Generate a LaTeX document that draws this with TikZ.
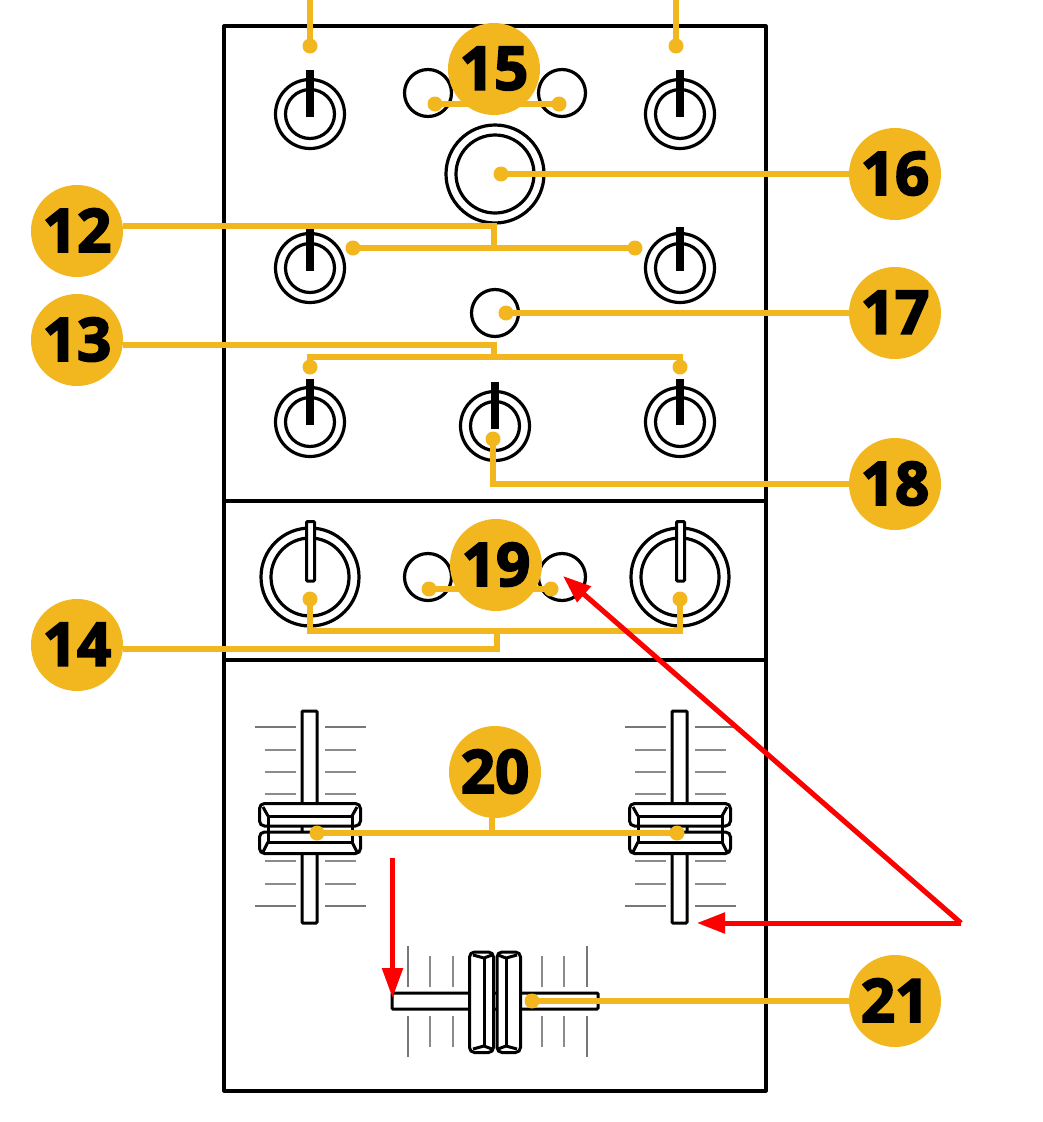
\documentclass[tikz,border=0pt]{standalone}
\usepackage{fontspec}
\usetikzlibrary{arrows.meta}
\newfontfamily\numfont[BoldFeatures={FakeBold=3}]{Open Sans}
\definecolor{gold}{HTML}{F2B61E}
\definecolor{tickgray}{HTML}{777777}
\newcommand\badgetext[1]{\raisebox{1.5pt}{#1}}
\tikzset{
 panel/.style={line width=3.2pt,draw=black,line join=round},
 ring/.style={circle,draw=black,line width=3.2pt,inner sep=0pt,fill=white},
 badge/.style={circle,fill=gold,inner sep=0pt,minimum size=92pt,font=\numfont\bfseries\fontsize{60}{60}\selectfont,text=black},
 dot/.style={circle,fill=gold,inner sep=0pt,minimum size=15pt},
 lead/.style={draw=gold,line width=6.5pt,line join=miter},
 pointer/.style={line width=8pt,draw=black},
 hollow/.style={draw=black,line width=3pt,fill=white,rounded corners=1pt},
 capline/.style={draw=black,line width=3pt,line join=round},
 major/.style={draw=tickgray,line width=2pt},
 minor/.style={draw=tickgray!85,line width=1.4pt},
 redline/.style={draw=red,line width=5pt},
 redshadow/.style={draw=black,opacity=.2,line width=5pt},
 redtipa/.style={-{Triangle[length=28pt,width=20pt]}},
 redtipb/.style={-{Triangle[length=30pt,width=20pt]}},
}
\newcommand\smallknob[3]{%
 \node[ring,minimum size=69pt] (#1o) at (#2) {};
 \node[ring,minimum size=49pt] (#1i) at (#2) {};
 \draw[pointer] ([yshift=#3pt]#1o.center) -- ([yshift=-3pt]#1o.center);
}
\newcommand\bigknob[2]{%
 \node[ring,minimum size=98pt] (#1o) at (#2) {};
 \node[ring,minimum size=78pt] (#1i) at (#2) {};
}
\newcommand\vfader[2]{%
 \begin{scope}[shift={(#2,0)}]
 \foreach \y in {727,906}{
  \draw[major] (-55,\y) -- (-14,\y);
  \draw[major] (15,\y) -- (56,\y);}
 \foreach \y in {750,772,794,861,884}{
  \draw[minor] (-45,\y) -- (-14,\y);
  \draw[minor] (15,\y) -- (46,\y);}
 \draw[hollow] (-8,711) rectangle (7,923);
 \draw[hollow,rounded corners=5pt] (-50.5,803.5) rectangle (50.5,826);
 \draw[hollow,rounded corners=5pt] (-50.5,832) rectangle (50.5,853.5);
 \draw[capline] (-42,816) -- (-42,842) (42,816) -- (42,842);
 \draw[capline] (-42,816) -- (42,816) (-42,842) -- (42,842);
 \draw[capline] (-47,807) -- (-42,816) (47,807) -- (42,816);
 \draw[capline] (-47,852) -- (-42,842) (47,852) -- (42,842);
 \end{scope}
}
\begin{document}
\begin{tikzpicture}[x=1pt,y=-1pt]
\useasboundingbox (0,0) rectangle (1043,1122);
\fill[white] (0,0) rectangle (1043,1122);
% panels
\draw[panel,fill=white] (224,26) rectangle (766,1091);
\draw[panel] (224,501) -- (766,501);
\draw[panel] (224,660) -- (766,660);
% upper knobs
\smallknob{ka}{310,114}{44}
\smallknob{kb}{680,114}{44}
\smallknob{kc}{310,268}{41}
\smallknob{kd}{680,268}{41}
\smallknob{ke}{310,422}{43}
\smallknob{kf}{680,422}{43}
\smallknob{kg}{495,426}{44}
\bigknob{kh}{495,174}
\node[ring,minimum size=47pt] (sa) at (428,93) {};
\node[ring,minimum size=47pt] (sb) at (562,93) {};
\node[ring,minimum size=47pt] (sc) at (495,313) {};
% second section
\bigknob{ki}{310,577}
\bigknob{kj}{680,577}
\draw[hollow] (306.5,521.5) rectangle (314.5,581);
\draw[hollow] (676.5,521.5) rectangle (684.5,581);
\node[ring,minimum size=47pt] (sd) at (428,577) {};
\node[ring,minimum size=47pt] (se) at (562,577) {};
% faders
\vfader{a}{310}
\vfader{b}{680}
% crossfader
\foreach \x in {408,587}{
 \draw[major] (\x,946) -- (\x,987);
 \draw[major] (\x,1016) -- (\x,1057);}
\foreach \x in {430,453,542,564}{
 \draw[minor] (\x,956) -- (\x,987);
 \draw[minor] (\x,1016) -- (\x,1047);}
\draw[hollow] (392,993) rectangle (598,1009);
\draw[hollow,rounded corners=5pt] (469.5,952) rectangle (493.5,1052.5);
\draw[hollow,rounded corners=5pt] (497,952) rectangle (520.5,1052.5);
\draw[capline] (484,958) -- (484,1046) (506,958) -- (506,1046);
\draw[capline] (473,955) -- (484,958) -- (492,955);
\draw[capline] (473,1049) -- (484,1046) -- (492,1049);
\draw[capline] (498,955) -- (506,958) -- (517,955);
\draw[capline] (498,1049) -- (506,1046) -- (517,1049);
% badges
\node[badge] (b15) at (494,69) {\badgetext{15}};
\node[badge] (b16) at (895,174) {\badgetext{16}};
\node[badge] (b12) at (77,231) {\badgetext{12}};
\node[badge] (b17) at (895,313) {\badgetext{17}};
\node[badge] (b13) at (77,340) {\badgetext{13}};
\node[badge] (b18) at (895,484) {\badgetext{18}};
\node[badge] (b19) at (496,565) {\badgetext{19}};
\node[badge] (b14) at (77,645) {\badgetext{14}};
\node[badge] (b20) at (495,772) {\badgetext{20}};
\node[badge] (b21) at (895,1001) {\badgetext{21}};
% leader dots
\node[dot] (d1) at (310,46) {};
\node[dot] (d2) at (676,46) {};
\node[dot] (d15a) at (435,104) {};
\node[dot] (d15b) at (559,104) {};
\node[dot] (d16) at (501,174) {};
\node[dot] (d12a) at (353,248) {};
\node[dot] (d12b) at (635,248) {};
\node[dot] (d17) at (506,313) {};
\node[dot] (d13a) at (310,367) {};
\node[dot] (d13b) at (680,367) {};
\node[dot] (d18) at (493,439) {};
\node[dot] (d19a) at (429,589) {};
\node[dot] (d19b) at (551,589) {};
\node[dot] (d14a) at (310,599) {};
\node[dot] (d14b) at (680,599) {};
\node[dot] (d20a) at (317,833) {};
\node[dot] (d20b) at (677,833) {};
\node[dot] (d21) at (532,1001) {};
% free ends and junctions
\coordinate (t1) at (310,0);
\coordinate (t2) at (676,0);
\coordinate (j12a) at (494,226);
\coordinate (j12b) at (494,248);
\coordinate (j13a) at (494,345);
\coordinate (j13b) at (494,357);
\coordinate (j14a) at (497,631);
\coordinate (j14b) at (497,649);
\coordinate (j20) at (492,833);
\coordinate (e15a) at (472,104);
\coordinate (e15b) at (516,104);
\coordinate (e19a) at (462,589);
\coordinate (e19b) at (530,589);
% leaders
\draw[lead] (t1) -- (d1.center);
\draw[lead] (t2) -- (d2.center);
\draw[lead] (d15a.center) -- (e15a);
\draw[lead] (d15b.center) -- (e15b);
\draw[lead] (d16.center) -- (b16.west);
\draw[lead] (b12.east |- j12a) -- (j12a) -- (j12b);
\draw[lead] (d12a.center) -- (d12b.center);
\draw[lead] (d17.center) -- (b17.west);
\draw[lead] (b13.east |- j13a) -- (j13a) -- (j13b);
\draw[lead] (d13a.center) -- (d13a.center |- j13b) -- (d13b.center |- j13b) -- (d13b.center);
\draw[lead] (d18.center) -- (d18.center |- b18.west) -- (b18.west);
\draw[lead] (d19a.center) -- (e19a);
\draw[lead] (d19b.center) -- (e19b);
\draw[lead] (d14a.center) -- (d14a.center |- j14a) -- (d14b.center |- j14a) -- (d14b.center);
\draw[lead] (j14a) -- (j14b) -- (b14.east |- j14b);
\draw[lead] (d20a.center) -- (d20b.center);
\draw[lead] (j20) -- (j20 |- b20.south);
\draw[lead] (d21.center) -- (b21.west);
% red arrows
\coordinate (rc) at (961,923);
\coordinate (rt1) at (563,576);
\coordinate (rt2) at (697,923);
\coordinate (rs) at (392.5,858);
\coordinate (rt3) at (392.5,998);
\begin{scope}[shift={(2.5,2.5)}]
\draw[redshadow,redtipa] (rc) -- (rt1);
\draw[redshadow,redtipa] (rc) -- (rt2);
\draw[redshadow,redtipb] (rs) -- (rt3);
\end{scope}
\draw[redline,fill=red,redtipa] (rc) -- (rt1);
\draw[redline,fill=red,redtipa] (rc) -- (rt2);
\draw[redline,fill=red,redtipb] (rs) -- (rt3);
\end{tikzpicture}
\end{document}
